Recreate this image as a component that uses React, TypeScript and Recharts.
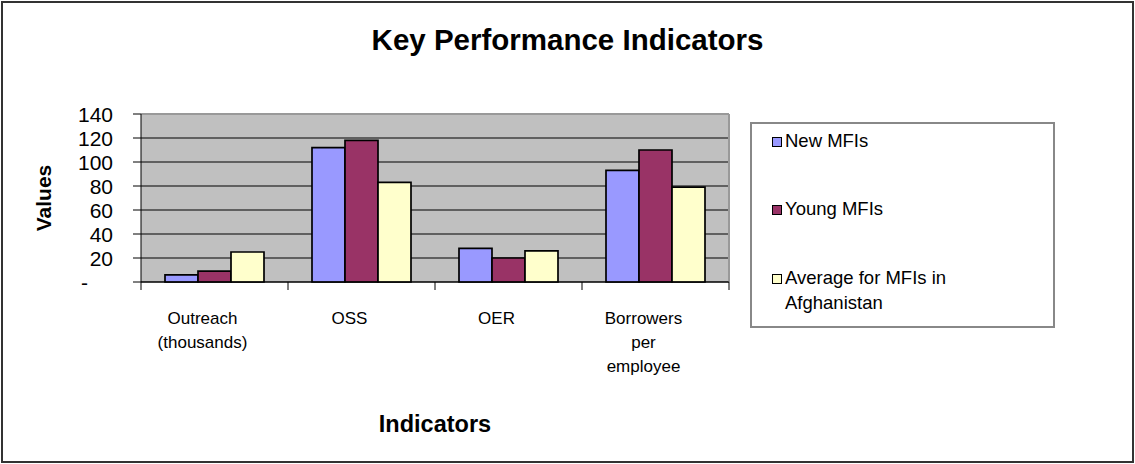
import React from 'react';
import { BarChart, Bar, XAxis, YAxis, CartesianGrid, Legend, Label } from 'recharts';

// ---- data ----
const categories = ['Outreach\n(thousands)', 'OSS', 'OER', 'Borrowers\nper\nemployee'];
const newMFIs = [6, 112, 28, 93];
const youngMFIs = [9, 118, 20, 110];
const averageAfghanistan = [25, 83, 26, 79];
const seriesNames = ['New MFIs', 'Young MFIs', 'Average for MFIs in Afghanistan'];
const yTicks = [0, 20, 40, 60, 80, 100, 120, 140];
const chartTitle = 'Key Performance Indicators';
const xTitle = 'Indicators';
const yTitle = 'Values';

const data = categories.map((c, i) => ({
  category: c,
  newMFIs: newMFIs[i],
  youngMFIs: youngMFIs[i],
  average: averageAfghanistan[i],
}));

// ---- layout ----
const W = 1135;
const H = 464;
const PLOT_L = 141;
const PLOT_R = 729;
const PLOT_T = 114;
const PLOT_B = 282;
const PLOT_W = PLOT_R - PLOT_L;
const YAXIS_W = 100;
const XAXIS_H = 120;
const FONT = '"Liberation Sans", Arial, Helvetica, sans-serif';

const YTick = (props: any) => {
  const { x, y, payload } = props;
  const isZero = payload.value === 0;
  return (
    <text
      x={isZero ? x - 25 : x}
      y={y}
      dy={7.5}
      textAnchor="end"
      fontSize={21}
      fontFamily={FONT}
      fill="#000"
    >
      {isZero ? '-' : payload.value}
    </text>
  );
};

const XTick = (props: any) => {
  const { x, payload, index } = props;
  const band = PLOT_W / categories.length;
  const lines = String(payload.value).split('\n');
  const tx = x - 12;
  return (
    <g>
      <line x1={x - band / 2} x2={x - band / 2} y1={PLOT_B} y2={PLOT_B + 8} stroke="#000" strokeWidth={1} />
      {index === categories.length - 1 && (
        <line x1={x + band / 2} x2={x + band / 2} y1={PLOT_B} y2={PLOT_B + 8} stroke="#000" strokeWidth={1} />
      )}
      <text x={tx} y={323.5} textAnchor="middle" fontSize={17} fontFamily={FONT} fill="#000">
        {lines.map((l, i) => (
          <tspan key={i} x={tx} dy={i === 0 ? 0 : 24}>
            {l}
          </tspan>
        ))}
      </text>
    </g>
  );
};

const ROW_TOPS = [4, 72, 141];

const LegendBox = (props: any) => {
  const payload = [...(props.payload || [])].sort(
    (a: any, b: any) => seriesNames.indexOf(a.value) - seriesNames.indexOf(b.value)
  );
  return (
    <div
      style={{
        width: 305,
        height: 206,
        boxSizing: 'border-box',
        border: '2px solid #888',
        background: '#fff',
        position: 'relative',
        fontFamily: FONT,
        fontSize: 18.5,
        lineHeight: '25px',
        color: '#000',
      }}
    >
      {payload.map((p: any, i: number) => (
        <div key={i} style={{ position: 'absolute', left: 20, top: ROW_TOPS[i], width: 270 }}>
          <div
            style={{
              position: 'absolute',
              left: 0,
              top: 9,
              width: 10,
              height: 10,
              boxSizing: 'border-box',
              border: '1px solid #000',
              background: p.color,
            }}
          />
          <div style={{ marginLeft: 13, width: 250 }}>{p.value}</div>
        </div>
      ))}
    </div>
  );
};

const gridH = (p: any) => {
  const isTop = Math.abs(p.y1 - PLOT_T) < 1;
  return (
    <line
      x1={p.x1}
      y1={p.y1}
      x2={p.x2}
      y2={p.y2}
      stroke={isTop ? '#999' : '#000'}
      strokeWidth={isTop ? 2 : 1}
    />
  );
};

const gridV = (p: any) => (
  <line x1={p.x1} y1={p.y1} x2={p.x2} y2={p.y2} stroke="#999" strokeWidth={2} />
);

export default function App() {
  return (
    <div style={{ position: 'absolute', left: 0, top: 0, width: W, height: H, background: '#fff', overflow: 'hidden' }}>
      <BarChart
        width={W}
        height={H}
        data={data}
        margin={{ top: PLOT_T, right: W - PLOT_R, bottom: H - PLOT_B - XAXIS_H, left: PLOT_L - YAXIS_W }}
        barCategoryGap={24}
        barGap={0}
      >
        <CartesianGrid
          fill="#C0C0C0"
          fillOpacity={1}
          horizontal={gridH}
          vertical={gridV}
          verticalPoints={[PLOT_R]}
        />
        <XAxis
          dataKey="category"
          height={XAXIS_H}
          interval={0}
          tickLine={false}
          axisLine={{ stroke: '#000', strokeWidth: 1 }}
          tick={<XTick />}
        >
          <Label
            content={(lp: any) => {
              const vb = lp.viewBox || {};
              return (
                <text
                  x={vb.x + vb.width / 2}
                  y={432}
                  textAnchor="middle"
                  fontSize={23.5}
                  fontWeight="bold"
                  fontFamily={FONT}
                  fill="#000"
                >
                  {xTitle}
                </text>
              );
            }}
          />
        </XAxis>
        <YAxis
          width={YAXIS_W}
          domain={[0, 140]}
          ticks={yTicks}
          interval={0}
          tickSize={8}
          tickMargin={20}
          axisLine={{ stroke: '#000', strokeWidth: 1 }}
          tickLine={{ stroke: '#000', strokeWidth: 1 }}
          tick={<YTick />}
        >
          <Label
            content={() => (
              <text
                x={51}
                y={(PLOT_T + PLOT_B) / 2}
                transform={`rotate(-90 51 ${(PLOT_T + PLOT_B) / 2})`}
                textAnchor="middle"
                fontSize={21}
                fontWeight="bold"
                fontFamily={FONT}
                fill="#000"
              >
                {yTitle}
              </text>
            )}
          />
        </YAxis>
        <Legend
          layout="vertical"
          align="center"
          verticalAlign="middle"
          itemSorter={null as any}
          content={<LegendBox />}
          wrapperStyle={{ left: 750, top: 122, width: 305, height: 206 }}
        />
        <Bar dataKey="newMFIs" name={seriesNames[0]} fill="#9999FF" stroke="#000" strokeWidth={1.7} isAnimationActive={false} />
        <Bar dataKey="youngMFIs" name={seriesNames[1]} fill="#993366" stroke="#000" strokeWidth={1.7} isAnimationActive={false} />
        <Bar dataKey="average" name={seriesNames[2]} fill="#FFFFCC" stroke="#000" strokeWidth={1.7} isAnimationActive={false} />
      </BarChart>
      <div
        style={{
          position: 'absolute',
          left: 0,
          top: 25,
          width: W,
          textAlign: 'center',
          fontFamily: FONT,
          fontWeight: 'bold',
          fontSize: 29.5,
          lineHeight: '30px',
          color: '#000',
        }}
      >
        {chartTitle}
      </div>
      <div
        style={{
          position: 'absolute',
          left: 1,
          top: 1,
          width: W - 2,
          height: H - 2,
          boxSizing: 'border-box',
          border: '2px solid #333',
          pointerEvents: 'none',
        }}
      />
    </div>
  );
}
